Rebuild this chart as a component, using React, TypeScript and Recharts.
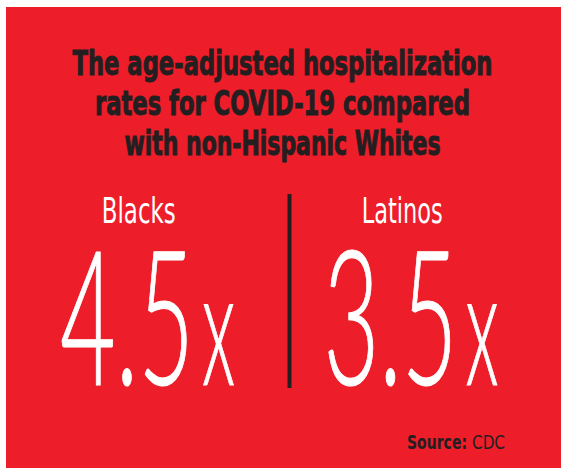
import React from 'react';
import { BarChart, Bar, XAxis, YAxis, LabelList, Customized } from 'recharts';

const groups = ['Blacks', 'Latinos'];
const rates = [4.5, 3.5];
const titleLines = [
  'The age-adjusted hospitalization',
  'rates for COVID-19 compared',
  'with non-Hispanic Whites',
];
const sourceLabel = 'Source:';
const sourceName = 'CDC';

const RED = '#ED1D2A';
const INK = '#231F20';
const NARROW = "'Liberation Sans Narrow', 'DejaVu Sans Condensed', 'Roboto', sans-serif";
const THIN = "'Lato', 'Roboto', sans-serif";

const chartData = groups.map((g, i) => ({ group: g, rate: rates[i] }));

const titleWidths = [420, 375, 316];
const labelWidths: Record<string, number> = { Blacks: 74, Latinos: 81 };

const GroupTick = (props: any) => {
  const { x, payload } = props;
  const w = labelWidths[payload.value] || 78;
  return (
    <text
      x={x - w / 2}
      y={223}
      fill="#fff"
      fontFamily={NARROW}
      fontSize={36}
      textLength={w}
      lengthAdjust="spacingAndGlyphs"
    >
      {payload.value}
    </text>
  );
};

const RateLabel = (props: any) => {
  const { viewBox, value } = props;
  if (!viewBox) return null;
  const cx = viewBox.x + viewBox.width / 2;
  const base = viewBox.y + viewBox.height;
  const left = cx - 79;
  return (
    <g>
      <text
        x={left}
        y={base}
        fill="#fff"
        stroke="#fff"
        strokeWidth={1.2}
        fontFamily={THIN}
        fontWeight={300}
        fontSize={188}
        textLength={134}
        lengthAdjust="spacingAndGlyphs"
      >
        {value.toFixed(1)}
      </text>
      <text
        x={left + 142}
        y={base}
        fill="#fff"
        stroke="#fff"
        strokeWidth={1.2}
        fontFamily={THIN}
        fontWeight={300}
        fontSize={162}
        textLength={33}
        lengthAdjust="spacingAndGlyphs"
      >
        x
      </text>
    </g>
  );
};

const Decorations = () => (
  <g>
    {titleLines.map((line, i) => (
      <text
        key={i}
        x={280.5 - titleWidths[i] / 2 + 2}
        y={75 + i * 40}
        fill={INK}
        stroke={INK}
        strokeWidth={0.9}
        fontFamily={NARROW}
        fontWeight="bold"
        fontSize={33}
        textLength={titleWidths[i]}
        lengthAdjust="spacingAndGlyphs"
      >
        {line}
      </text>
    ))}
    <rect x={287.5} y={194} width={4} height={194} fill={INK} />
    <text
      x={407}
      y={449}
      fill={INK}
      fontFamily={NARROW}
      fontWeight="bold"
      fontSize={19}
      textLength={60}
      lengthAdjust="spacingAndGlyphs"
    >
      {sourceLabel}
    </text>
    <text
      x={472}
      y={449}
      fill={INK}
      fontFamily={NARROW}
      fontSize={19}
      textLength={33}
      lengthAdjust="spacingAndGlyphs"
    >
      {sourceName}
    </text>
  </g>
);

export default function App() {
  return (
    <div style={{ position: 'absolute', left: 0, top: 0, width: 561, height: 468, background: '#fff' }}>
      <div style={{ position: 'absolute', left: 6, top: 7, width: 555, height: 461, background: RED }} />
      <div style={{ position: 'absolute', left: 0, top: 0 }}>
        <BarChart
          width={561}
          height={468}
          data={chartData}
          margin={{ top: 200, right: 27, bottom: 83, left: 7 }}
          barCategoryGap={0}
        >
          <XAxis
            dataKey="group"
            orientation="top"
            height={30}
            axisLine={false}
            tickLine={false}
            tick={<GroupTick />}
            interval={0}
          />
          <YAxis hide domain={[0, 5]} />
          <Bar dataKey="rate" fill="transparent" isAnimationActive={false}>
            <LabelList dataKey="rate" content={<RateLabel />} />
          </Bar>
          <Customized component={<Decorations />} />
        </BarChart>
      </div>
    </div>
  );
}
